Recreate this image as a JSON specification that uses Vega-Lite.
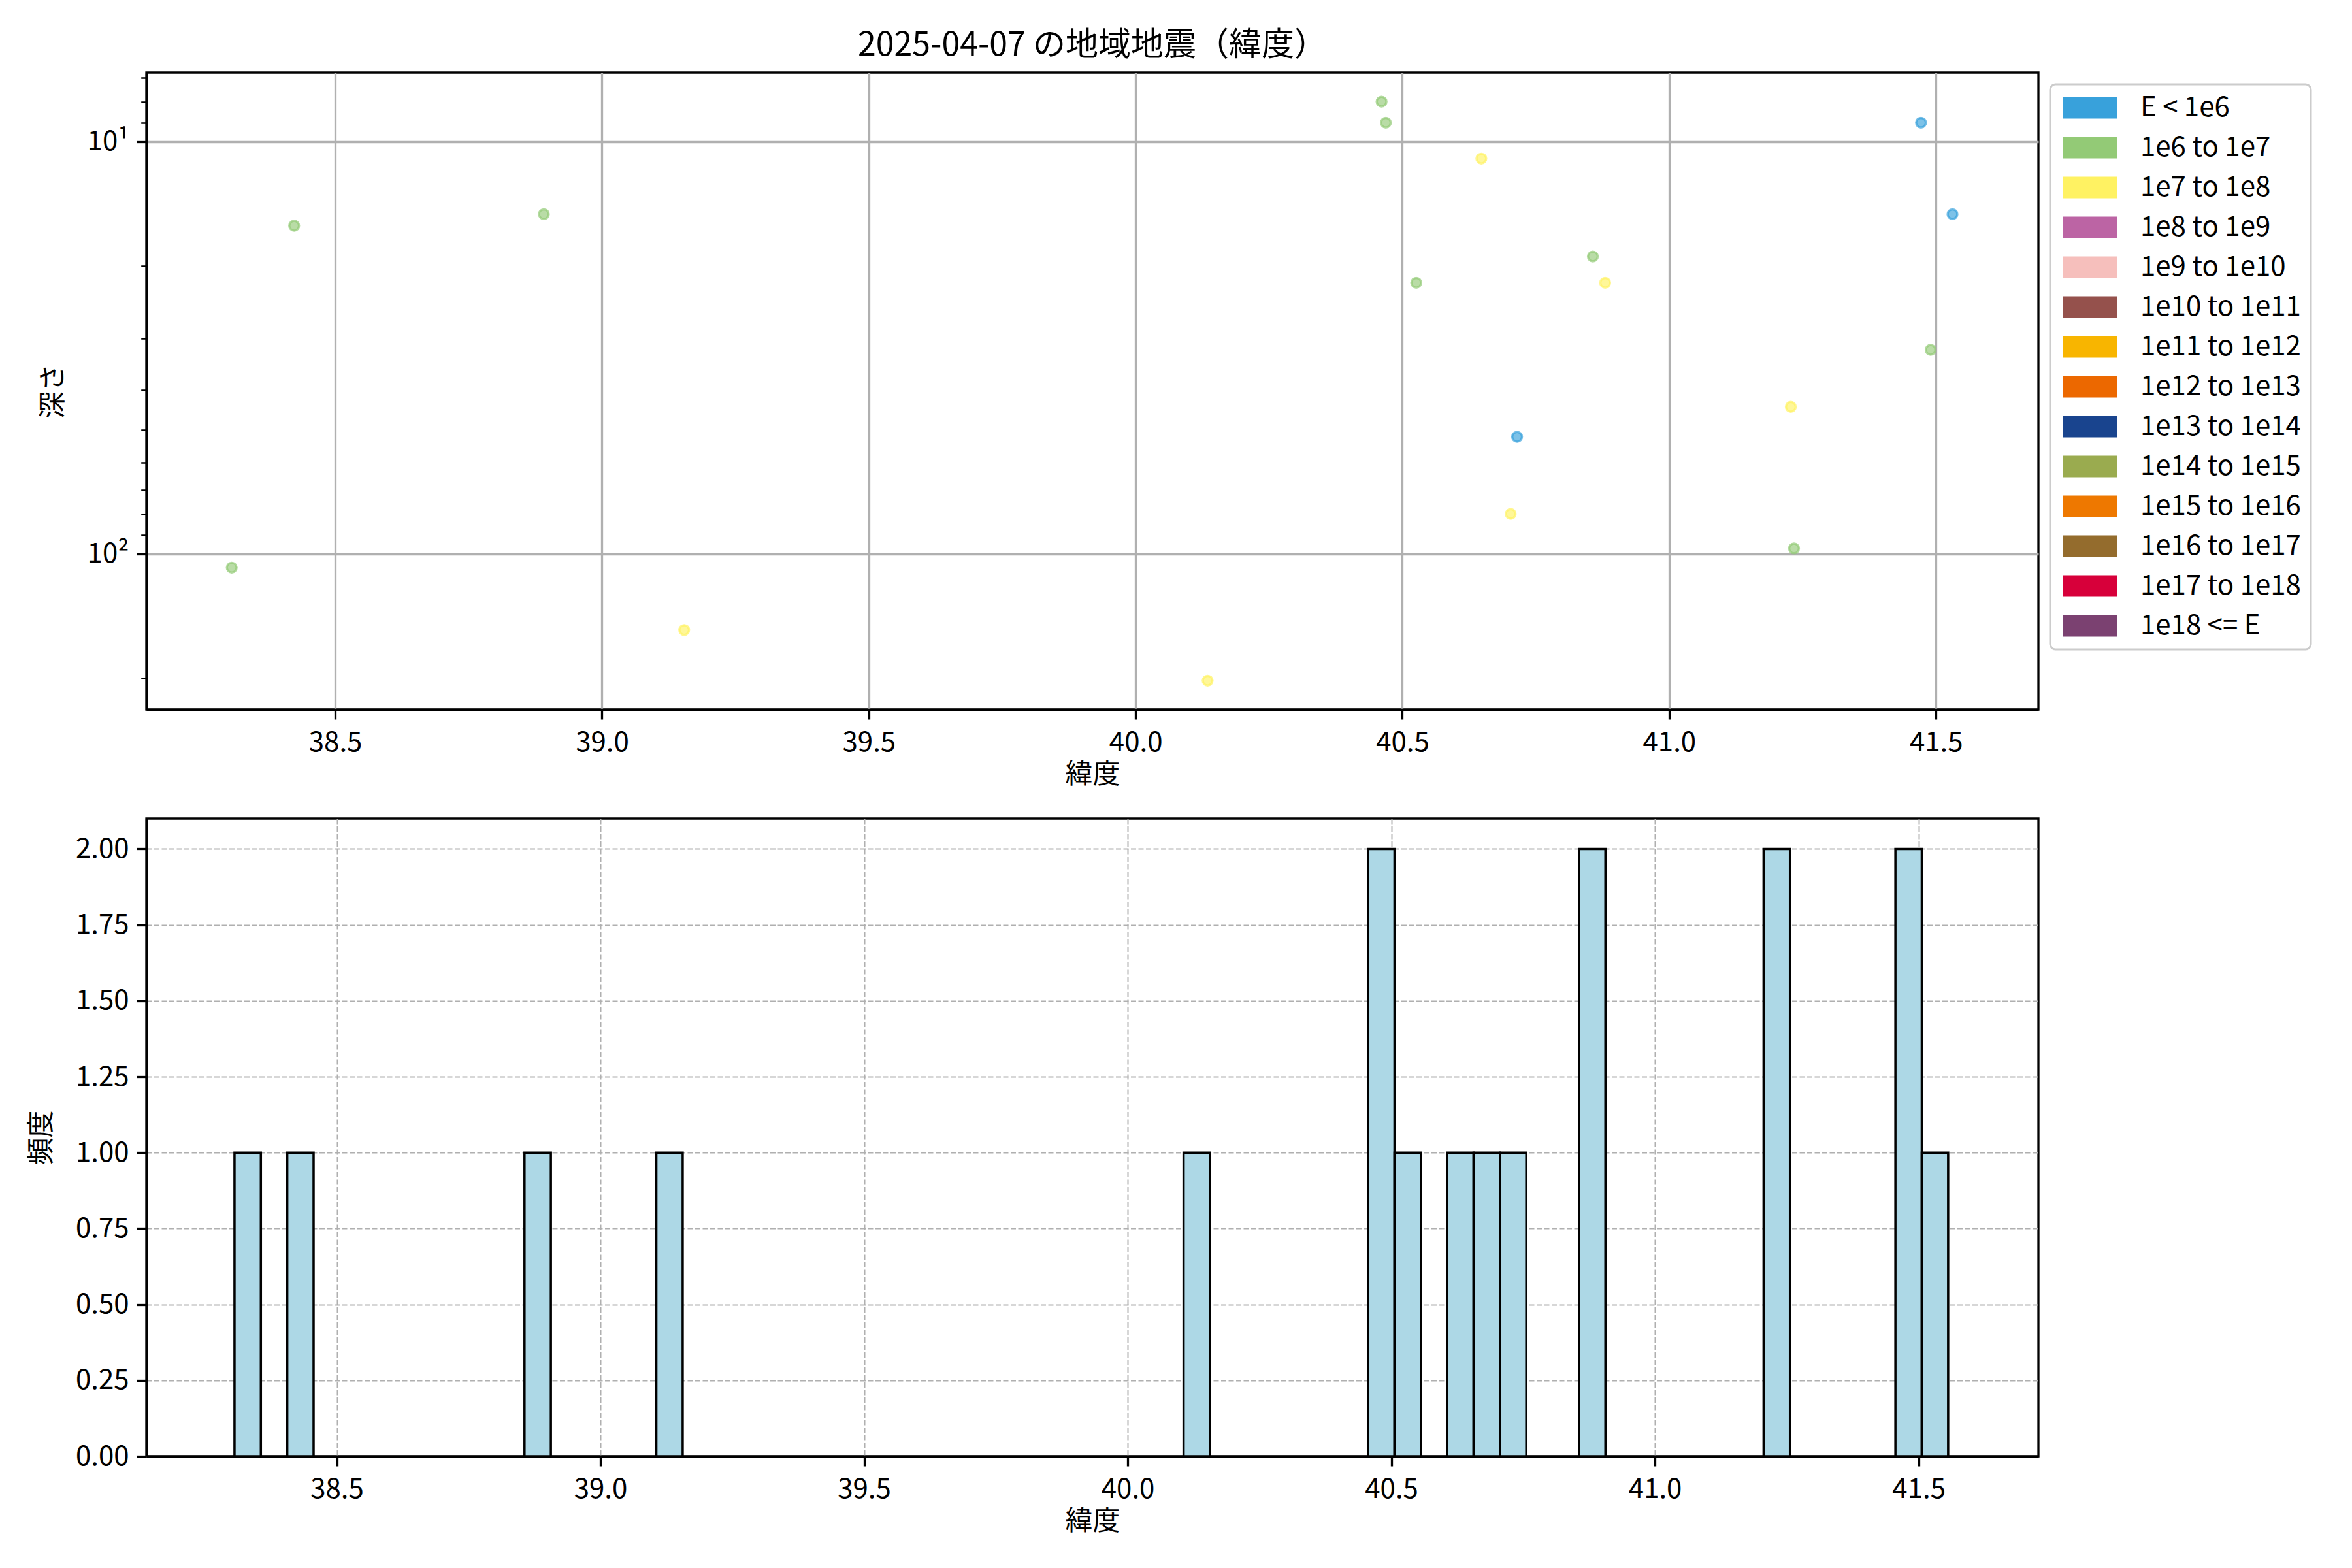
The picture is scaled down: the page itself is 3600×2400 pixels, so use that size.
{
  "$schema": "https://vega.github.io/schema/vega-lite/v6.json",
  "background": "white",
  "padding": {"left": 40, "top": 43, "right": 5, "bottom": 5},
  "spacing": 43,
  "config": {
    "font": "Noto Sans CJK JP",
    "view": {"stroke": "black", "strokeWidth": 3.3},
    "axis": {
      "labelFont": "Noto Sans CJK JP",
      "labelFontSize": 42,
      "labelColor": "black",
      "titleFont": "Noto Sans CJK JP",
      "titleFontSize": 42,
      "titleFontWeight": "normal",
      "titleColor": "black",
      "tickColor": "black",
      "tickSize": 15,
      "tickWidth": 3.3,
      "domainColor": "black",
      "domainWidth": 3.3,
      "labelPadding": 12,
      "labelFlush": false,
      "labelOverlap": false,
      "gridColor": "#b0b0b0"
    },
    "axisX": {"labelPadding": 15, "titlePadding": 8},
    "legend": {"strokeWidth": 3},
    "title": {"font": "Noto Sans CJK JP", "fontSize": 50, "fontWeight": "normal", "color": "black"}
  },
  "vconcat": [
    {
      "width": 2896,
      "height": 975,
      "title": {"text": "2025-04-07 の地域地震（緯度）", "frame": "group", "anchor": "middle", "offset": 16},
      "data": {
        "values": [
          {"lat": 38.306, "depth": 108, "energy": "1e6 to 1e7"},
          {"lat": 38.423, "depth": 16, "energy": "1e6 to 1e7"},
          {"lat": 38.891, "depth": 15, "energy": "1e6 to 1e7"},
          {"lat": 39.154, "depth": 153, "energy": "1e7 to 1e8"},
          {"lat": 40.135, "depth": 203, "energy": "1e7 to 1e8"},
          {"lat": 40.461, "depth": 8, "energy": "1e6 to 1e7"},
          {"lat": 40.469, "depth": 9, "energy": "1e6 to 1e7"},
          {"lat": 40.526, "depth": 22, "energy": "1e6 to 1e7"},
          {"lat": 40.648, "depth": 11, "energy": "1e7 to 1e8"},
          {"lat": 40.703, "depth": 80, "energy": "1e7 to 1e8"},
          {"lat": 40.715, "depth": 52, "energy": "E < 1e6"},
          {"lat": 40.857, "depth": 19, "energy": "1e6 to 1e7"},
          {"lat": 40.880, "depth": 22, "energy": "1e7 to 1e8"},
          {"lat": 41.228, "depth": 44, "energy": "1e7 to 1e8"},
          {"lat": 41.234, "depth": 97, "energy": "1e6 to 1e7"},
          {"lat": 41.472, "depth": 9, "energy": "E < 1e6"},
          {"lat": 41.490, "depth": 32, "energy": "1e6 to 1e7"},
          {"lat": 41.531, "depth": 15, "energy": "E < 1e6"}
        ]
      },
      "encoding": {
        "x": {
          "field": "lat",
          "type": "quantitative",
          "scale": {"domain": [38.146, 41.692], "nice": false, "zero": false},
          "axis": {
            "values": [38.5, 39, 39.5, 40, 40.5, 41, 41.5],
            "format": ".1f",
            "title": "緯度",
            "grid": true,
            "gridWidth": 3.3
          }
        }
      },
      "layer": [
        {
          "mark": {"type": "circle", "size": 220, "fillOpacity": 0.65, "strokeOpacity": 0.7, "strokeWidth": 3.5, "clip": true},
          "encoding": {
            "y": {
              "field": "depth",
              "type": "quantitative",
              "scale": {"type": "log", "domain": [6.8, 238.5], "reverse": true, "nice": false},
              "axis": {
                "orient": "left",
                "values": [10, 100],
                "labelExpr": "datum.value == 10 ? '10¹' : '10²'",
                "title": "深さ",
                "grid": true,
                "gridWidth": 3.3,
                "minExtent": 100,
                "maxExtent": 100,
                "titlePadding": 21
              }
            },
            "color": {
              "field": "energy",
              "type": "nominal",
              "scale": {
                "domain": ["E < 1e6", "1e6 to 1e7", "1e7 to 1e8", "1e8 to 1e9", "1e9 to 1e10", "1e10 to 1e11", "1e11 to 1e12", "1e12 to 1e13", "1e13 to 1e14", "1e14 to 1e15", "1e15 to 1e16", "1e16 to 1e17", "1e17 to 1e18", "1e18 <= E"],
                "range": ["#38A1DB", "#93CA76", "#FFF262", "#BC64A4", "#F6BFBC", "#95514C", "#F8B500", "#EC6800", "#19448E", "#9AAB4F", "#EE7800", "#946C2D", "#D7003A", "#7B4171"]
              },
              "legend": {
                "title": null,
                "orient": "none",
                "legendX": 2914,
                "legendY": 18,
                "symbolType": "M-1,-1H4V1H-1Z",
                "symbolSize": 1089,
                "symbolStrokeWidth": 0,
                "symbolOpacity": 1,
                "labelFont": "Noto Sans CJK JP",
                "labelFontSize": 42,
                "labelColor": "black",
                "labelOffset": 81,
                "labelLimit": 1000,
                "rowPadding": 19,
                "padding": 15,
                "strokeColor": "#cccccc",
                "cornerRadius": 8,
                "fillColor": "white"
              }
            },
            "stroke": {
              "field": "energy",
              "type": "nominal",
              "scale": {
                "domain": ["E < 1e6", "1e6 to 1e7", "1e7 to 1e8", "1e8 to 1e9", "1e9 to 1e10", "1e10 to 1e11", "1e11 to 1e12", "1e12 to 1e13", "1e13 to 1e14", "1e14 to 1e15", "1e15 to 1e16", "1e16 to 1e17", "1e17 to 1e18", "1e18 <= E"],
                "range": ["#38A1DB", "#93CA76", "#FFF262", "#BC64A4", "#F6BFBC", "#95514C", "#F8B500", "#EC6800", "#19448E", "#9AAB4F", "#EE7800", "#946C2D", "#D7003A", "#7B4171"]
              },
              "legend": null
            }
          }
        },
        {
          "mark": {"type": "circle", "opacity": 0},
          "encoding": {
            "y": {
              "field": "depth",
              "type": "quantitative",
              "scale": {"type": "log", "domain": [6.8, 238.5], "reverse": true, "nice": false},
              "axis": {
                "orient": "left",
                "values": [7, 8, 9, 20, 30, 40, 50, 60, 70, 80, 90, 200],
                "labels": false,
                "title": null,
                "grid": false,
                "domain": false,
                "tickSize": 8.3,
                "tickWidth": 2.5
              }
            }
          }
        }
      ],
      "resolve": {"axis": {"y": "independent"}}
    },
    {
      "width": 2896,
      "height": 976,
      "data": {
        "values": [
          {"bin_start": 38.306, "bin_end": 38.356, "count": 1},
          {"bin_start": 38.406, "bin_end": 38.456, "count": 1},
          {"bin_start": 38.856, "bin_end": 38.906, "count": 1},
          {"bin_start": 39.106, "bin_end": 39.156, "count": 1},
          {"bin_start": 40.106, "bin_end": 40.156, "count": 1},
          {"bin_start": 40.456, "bin_end": 40.506, "count": 2},
          {"bin_start": 40.506, "bin_end": 40.556, "count": 1},
          {"bin_start": 40.606, "bin_end": 40.656, "count": 1},
          {"bin_start": 40.656, "bin_end": 40.706, "count": 1},
          {"bin_start": 40.706, "bin_end": 40.756, "count": 1},
          {"bin_start": 40.856, "bin_end": 40.906, "count": 2},
          {"bin_start": 41.206, "bin_end": 41.256, "count": 2},
          {"bin_start": 41.456, "bin_end": 41.506, "count": 2},
          {"bin_start": 41.506, "bin_end": 41.556, "count": 1}
        ]
      },
      "mark": {"type": "bar", "orient": "vertical", "fill": "#ADD8E6", "stroke": "black", "strokeWidth": 3.5},
      "encoding": {
        "x": {
          "field": "bin_start",
          "type": "quantitative",
          "scale": {"domain": [38.145, 41.721], "nice": false, "zero": false},
          "axis": {
            "values": [38.5, 39, 39.5, 40, 40.5, 41, 41.5],
            "format": ".1f",
            "title": "緯度",
            "grid": true,
            "gridWidth": 2,
            "gridDash": [8, 3.5]
          }
        },
        "x2": {"field": "bin_end"},
        "y": {
          "field": "count",
          "type": "quantitative",
          "scale": {"domain": [0, 2.1], "nice": false},
          "axis": {
            "values": [0, 0.25, 0.5, 0.75, 1, 1.25, 1.5, 1.75, 2],
            "format": ".2f",
            "title": "頻度",
            "grid": true,
            "gridWidth": 2,
            "gridDash": [8, 3.5],
            "minExtent": 115,
            "maxExtent": 115,
            "titlePadding": 24
          }
        },
        "y2": {"datum": 0}
      }
    }
  ]
}
